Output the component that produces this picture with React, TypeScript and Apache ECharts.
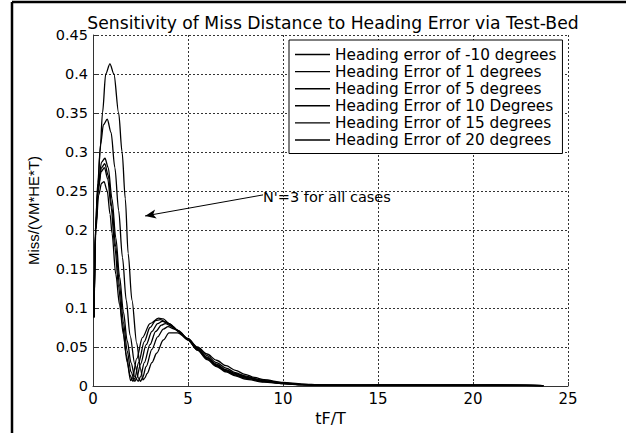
import React, { useEffect, useRef } from "react";
import * as echarts from "echarts";

const seriesNames = [
  "Heading error of -10 degrees",
  "Heading Error of 1 degrees",
  "Heading Error of 5 degrees",
  "Heading Error of 10 Degrees",
  "Heading Error of 15 degrees",
  "Heading Error of 20 degrees",
];

const xTicks = [0, 5, 10, 15, 20, 25];
const yTicks = [0, 0.05, 0.1, 0.15, 0.2, 0.25, 0.3, 0.35, 0.4, 0.45];

const missA = [[0.05,0.088],[0.12,0.2],[0.25,0.25],[0.37,0.3],[0.5,0.35],[0.67,0.4],[0.89,0.413],[1.1,0.4],[1.35,0.35],[1.53,0.3],[1.7,0.24],[1.85,0.17],[2.05,0.11],[2.3,0.055],[2.5,0.022],[2.63,0.008],[2.72,0.01],[2.85,0.016],[3.1,0.03],[3.35,0.042],[3.7,0.059],[4.0,0.068],[4.45,0.068],[5.0,0.06],[5.5,0.05],[6,0.041],[6.5,0.033],[7,0.026],[7.5,0.02],[8,0.015],[8.5,0.011],[9,0.008],[10,0.0045],[11,0.0025],[12,0.0015],[13,0.001],[15,0.001],[17,0.0015],[19,0.001],[21,0.0012],[23.7,0.0006]];
const missB = [[0.05,0.088],[0.13,0.2],[0.25,0.26],[0.4,0.31],[0.55,0.335],[0.75,0.342],[0.95,0.325],[1.15,0.28],[1.35,0.225],[1.55,0.165],[1.75,0.11],[1.95,0.065],[2.2,0.028],[2.4,0.01],[2.5,0.006],[2.6,0.01],[2.8,0.025],[3.1,0.047],[3.4,0.063],[3.7,0.073],[3.95,0.076],[4.3,0.073],[5.0,0.061],[5.5,0.049],[6,0.039],[6.5,0.03],[7,0.023],[7.5,0.017],[8,0.013],[8.5,0.0095],[9,0.007],[10,0.004],[11,0.002],[12,0.0012],[14,0.001],[16,0.0012],[18,0.0009],[20,0.0012],[22,0.0008],[23.7,0.0005]];
const missC = [[0.05,0.088],[0.14,0.2],[0.28,0.26],[0.45,0.287],[0.63,0.292],[0.8,0.28],[1.0,0.24],[1.2,0.19],[1.4,0.14],[1.6,0.095],[1.8,0.058],[2.0,0.03],[2.2,0.012],[2.38,0.006],[2.5,0.012],[2.7,0.03],[3.0,0.053],[3.3,0.07],[3.6,0.078],[3.8,0.08],[4.2,0.076],[4.6,0.068],[5.0,0.06],[5.5,0.048],[6,0.037],[6.5,0.028],[7,0.021],[7.5,0.016],[8,0.012],[9,0.0065],[10,0.0035],[11,0.002],[12,0.0012],[14,0.0012],[16,0.0009],[18,0.0013],[20,0.0008],[22,0.0011],[23.7,0.0005]];
const missD = [[0.05,0.088],[0.14,0.2],[0.28,0.255],[0.45,0.28],[0.62,0.285],[0.8,0.27],[1.0,0.228],[1.2,0.178],[1.4,0.128],[1.6,0.082],[1.8,0.045],[2.0,0.018],[2.2,0.006],[2.3,0.01],[2.5,0.028],[2.8,0.053],[3.1,0.07],[3.4,0.08],[3.65,0.083],[4.0,0.08],[4.5,0.071],[5.0,0.06],[5.5,0.047],[6,0.036],[6.5,0.027],[7,0.02],[7.5,0.015],[8,0.011],[9,0.006],[10,0.0033],[11,0.0018],[12,0.0011],[14,0.0009],[16,0.0013],[18,0.0008],[20,0.0011],[22,0.0009],[23.7,0.0005]];
const missE = [[0.05,0.088],[0.14,0.2],[0.27,0.25],[0.43,0.275],[0.6,0.28],[0.78,0.265],[0.95,0.23],[1.15,0.178],[1.35,0.127],[1.55,0.08],[1.75,0.04],[1.95,0.014],[2.1,0.006],[2.2,0.01],[2.4,0.03],[2.7,0.057],[3.0,0.075],[3.3,0.084],[3.55,0.085],[3.9,0.081],[4.4,0.072],[5.0,0.059],[5.5,0.046],[6,0.035],[6.5,0.026],[7,0.019],[7.5,0.014],[8,0.01],[9,0.0055],[10,0.003],[11,0.0016],[12,0.001],[14,0.0012],[16,0.0008],[18,0.0012],[20,0.0009],[22,0.001],[23.7,0.0004]];
const missF = [[0.05,0.088],[0.15,0.2],[0.3,0.245],[0.45,0.26],[0.58,0.262],[0.75,0.25],[0.9,0.22],[1.0,0.196],[1.2,0.143],[1.4,0.104],[1.6,0.066],[1.8,0.03],[1.98,0.007],[2.08,0.01],[2.3,0.035],[2.6,0.062],[3.0,0.08],[3.45,0.087],[3.7,0.086],[4.0,0.08],[4.5,0.07],[5.0,0.059],[5.5,0.046],[6,0.034],[6.5,0.025],[7,0.018],[7.5,0.013],[8,0.009],[9,0.005],[10,0.003],[11,0.0015],[12,0.001],[14,0.0008],[16,0.0015],[18,0.0008],[20,0.0012],[22,0.0008],[23.7,0.0005]];

const seriesData = [missA, missB, missC, missD, missE, missF];

const annotationText = "N'=3 for all cases";
const arrowStart = [8.95, 0.245];
const arrowEnd = [2.74, 0.218];

const FONT = "'Liberation Sans', Arial, sans-serif";
const WIDE = "'DejaVu Sans', Verdana, sans-serif";

export default function App() {
  const ref = useRef<HTMLDivElement>(null);
  useEffect(() => {
    if (!ref.current) return;
    const chart = echarts.init(ref.current, undefined, { renderer: "svg" });
    const series: any[] = seriesData.map((d, i) => ({
      name: seriesNames[i],
      type: "line",
      data: d,
      showSymbol: false,
      symbol: "none",
      smooth: 0.3,
      smoothMonotone: "x",
      lineStyle: { color: "#000", width: 1.3 },
      itemStyle: { color: "#000" },
    }));
    series[0].markLine = {
      silent: true,
      symbol: ["none", "arrow"],
      symbolSize: [7, 11],
      lineStyle: { color: "#000", width: 1, type: "solid" },
      label: { show: false },
      data: [[{ coord: arrowStart }, { coord: arrowEnd }]],
    };
    chart.setOption({
      animation: false,
      backgroundColor: "#fff",
      title: {
        text: "Sensitivity of Miss Distance to Heading Error via Test-Bed",
        left: 328,
        textAlign: "center",
        top: 9,
        textStyle: { fontFamily: WIDE, fontSize: 17.2, fontWeight: "normal", color: "#000" },
      },
      legend: {
        orient: "vertical",
        left: 289,
        top: 40,
        backgroundColor: "#fff",
        borderColor: "#000",
        borderWidth: 1,
        padding: [7, 6, 6, 6],
        itemGap: 2.1,
        itemWidth: 35,
        itemHeight: 1.4,
        icon: "rect",
        itemStyle: { color: "#000" },
        textStyle: { fontFamily: WIDE, fontSize: 15.3, color: "#000" },
        data: seriesNames,
      },
      grid: { left: 93, right: 58, top: 35, bottom: 47 },
      xAxis: {
        type: "value",
        min: xTicks[0],
        max: xTicks[xTicks.length - 1],
        interval: 5,
        name: "tF/T",
        nameLocation: "middle",
        nameGap: 19,
        nameTextStyle: { fontFamily: WIDE, fontSize: 16, color: "#000" },
        axisLine: { lineStyle: { color: "#333", width: 1 } },
        axisTick: { inside: true, length: 4, lineStyle: { color: "#333" } },
        axisLabel: { fontFamily: WIDE, fontSize: 15, color: "#000", margin: 5 },
        splitLine: { show: true, lineStyle: { color: "#333", type: [2, 2], width: 1 } },
      },
      yAxis: {
        type: "value",
        min: yTicks[0],
        max: yTicks[yTicks.length - 1],
        interval: 0.05,
        name: "Miss/(VM*HE*T)",
        nameLocation: "middle",
        nameGap: 52,
        nameTextStyle: { fontFamily: FONT, fontSize: 15, color: "#000" },
        axisLine: { show: true, lineStyle: { color: "#333", width: 1 } },
        axisTick: { show: true, inside: true, length: 4, lineStyle: { color: "#333" } },
        axisLabel: { fontFamily: WIDE, fontSize: 14.5, color: "#000", margin: 5 },
        splitLine: { show: true, lineStyle: { color: "#333", type: [2, 2], width: 1 } },
      },
      graphic: [
        {
          type: "text",
          left: 263,
          top: 189,
          style: { text: annotationText, fontFamily: WIDE, fontSize: 14.5, fill: "#000" },
        },
        { type: "line", shape: { x1: 12, y1: 2, x2: 12, y2: 433 }, style: { stroke: "#000", lineWidth: 2.5 } },
        { type: "line", shape: { x1: 12, y1: 2, x2: 626, y2: 2 }, style: { stroke: "#000", lineWidth: 2.5 } },
      ],
      series,
    });
    return () => chart.dispose();
  }, []);
  return <div ref={ref} style={{ position: "fixed", left: 0, top: 0, width: 626, height: 433 }} />;
}
